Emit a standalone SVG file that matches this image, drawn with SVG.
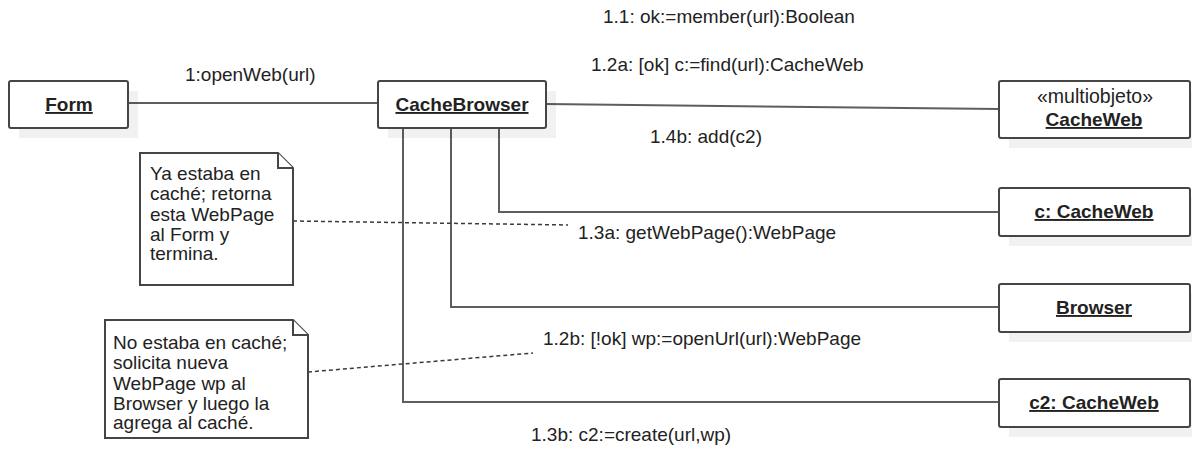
<svg xmlns="http://www.w3.org/2000/svg" width="1192" height="452" viewBox="0 0 1192 452">
  <style>
    .box { fill: #ffffff; stroke: #454545; stroke-width: 2; }
    .shadow { fill: #000000; fill-opacity: 0.055; stroke: none; }
    .link { fill: none; stroke: #5e5e5e; stroke-width: 2; }
    .anchor { fill: none; stroke: #3a3a3a; stroke-width: 1.5; stroke-dasharray: 4 3; }
    .name { font-family: "Liberation Sans", Arial, sans-serif; font-size: 19px; font-weight: bold; fill: #222; text-anchor: middle; text-decoration: underline; }
    .stereo { font-family: "Liberation Sans", Arial, sans-serif; font-size: 19.5px; fill: #222; text-anchor: middle; }
    .msg { font-family: "Liberation Sans", Arial, sans-serif; font-size: 19px; fill: #222; }
    .note { fill: #ffffff; stroke: #454545; stroke-width: 2; }
  </style>
  <rect width="1192" height="452" fill="#ffffff"/>

  <!-- links between objects -->
  <g id="connectors">
    <line class="link" x1="128" y1="103" x2="378" y2="103"/>
    <line class="link" x1="546" y1="104" x2="999" y2="109"/>
    <polyline class="link" points="499,128 499,212 999,212"/>
    <polyline class="link" points="451,128 451,307 999,307"/>
    <polyline class="link" points="403,128 403,402 999,402"/>
    <line class="anchor" x1="293" y1="221" x2="568" y2="225"/>
    <line class="anchor" x1="308" y1="372" x2="533" y2="353"/>
  </g>

  <!-- message labels -->
  <g id="messages">
    <text class="msg" x="185" y="81">1:openWeb(url)</text>
    <text class="msg" x="603" y="23">1.1: ok:=member(url):Boolean</text>
    <text class="msg" x="591" y="71">1.2a: [ok] c:=find(url):CacheWeb</text>
    <text class="msg" x="650" y="143">1.4b: add(c2)</text>
    <text class="msg" x="578" y="239">1.3a: getWebPage():WebPage</text>
    <text class="msg" x="543" y="345">1.2b: [!ok] wp:=openUrl(url):WebPage</text>
    <text class="msg" x="531" y="441">1.3b: c2:=create(url,wp)</text>
  </g>

  <g id="form">
    <rect class="shadow" x="19" y="91" width="119" height="47"/>
    <rect class="box" x="9" y="81" width="119" height="47" rx="2"/>
    <text class="name" x="69" y="111">Form</text>
  </g>

  <g id="cacheBrowser">
    <rect class="shadow" x="388" y="91" width="168" height="47"/>
    <rect class="box" x="378" y="81" width="168" height="47" rx="2"/>
    <text class="name" x="462" y="111">CacheBrowser</text>
  </g>

  <g id="cacheWebMulti">
    <rect class="shadow" x="1009" y="91" width="191" height="57"/>
    <rect class="box" x="999" y="81" width="191" height="57" rx="2"/>
    <text class="stereo" x="1095" y="103">«multiobjeto»</text>
    <text class="name" x="1094" y="126">CacheWeb</text>
  </g>

  <g id="cCacheWeb">
    <rect class="shadow" x="1009" y="198" width="191" height="48"/>
    <rect class="box" x="999" y="188" width="191" height="48" rx="2"/>
    <text class="name" x="1094" y="218">c: CacheWeb</text>
  </g>

  <g id="browser">
    <rect class="shadow" x="1009" y="294" width="191" height="48"/>
    <rect class="box" x="999" y="284" width="191" height="48" rx="2"/>
    <text class="name" x="1094" y="314">Browser</text>
  </g>

  <g id="c2CacheWeb">
    <rect class="shadow" x="1009" y="389" width="191" height="48"/>
    <rect class="box" x="999" y="379" width="191" height="48" rx="2"/>
    <text class="name" x="1094" y="409">c2: CacheWeb</text>
  </g>

  <g id="noteCached">
    <path class="note" d="M140,153 H278 L293,168 V285 H140 Z"/>
    <path class="note" d="M278,153 V168 H293" fill="none"/>
    <text class="msg">
      <tspan x="150" y="180">Ya estaba en</tspan>
      <tspan x="150" y="200">caché; retorna</tspan>
      <tspan x="150" y="221">esta WebPage</tspan>
      <tspan x="150" y="241">al Form y</tspan>
      <tspan x="150" y="260">termina.</tspan>
    </text>
  </g>

  <g id="noteNotCached">
    <path class="note" d="M105,320 H293 L308,335 V438 H105 Z"/>
    <path class="note" d="M293,320 V335 H308" fill="none"/>
    <text class="msg">
      <tspan x="113" y="349">No estaba en caché;</tspan>
      <tspan x="113" y="369">solicita nueva</tspan>
      <tspan x="113" y="390">WebPage wp al</tspan>
      <tspan x="113" y="410">Browser y luego la</tspan>
      <tspan x="113" y="429">agrega al caché.</tspan>
    </text>
  </g>
</svg>
